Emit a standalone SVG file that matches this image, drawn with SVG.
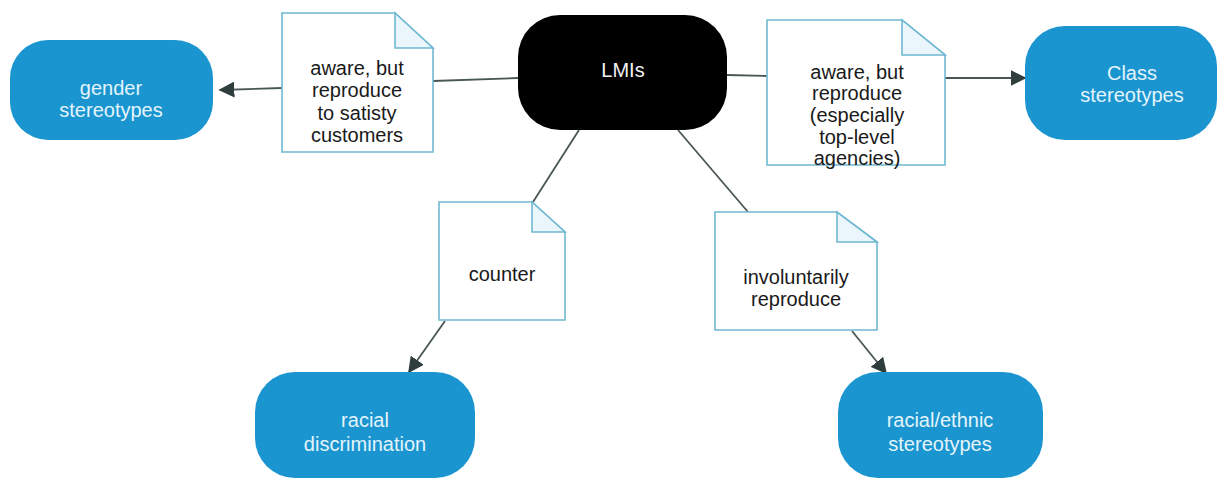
<svg xmlns="http://www.w3.org/2000/svg" width="1221" height="481" viewBox="0 0 1221 481">
  <style>
    .topic { fill: #1b95cf; }
    .topic-text { fill: #e3f4fc; font-family: "Liberation Sans", Arial, sans-serif; font-size: 20px; text-anchor: middle; }
    .note { fill: #ffffff; stroke: #6fb8d2; stroke-width: 1.6; }
    .fold { fill: #eaf6fb; stroke: #6fb8d2; stroke-width: 1.6; }
    .note-text { fill: #1a1a1a; font-family: "Liberation Sans", Arial, sans-serif; font-size: 20px; text-anchor: middle; }
    .link { fill: none; stroke: #4a5656; stroke-width: 1.8; }
  </style>
  <defs>
    <marker id="arrow" viewBox="0 0 10 10" refX="9" refY="5" markerWidth="16" markerHeight="16" markerUnits="userSpaceOnUse" orient="auto">
      <path d="M0,0 L10,5 L0,10 z" fill="#2f3d3d"/>
    </marker>
  </defs>
  <rect width="1221" height="481" fill="#ffffff"/>

  <!-- connectors -->
  <g id="connectors">
    <line class="link" x1="518" y1="78" x2="433" y2="81"/>
    <line class="link" x1="282" y1="88" x2="220" y2="90" marker-end="url(#arrow)"/>
    <line class="link" x1="727" y1="75" x2="767" y2="76"/>
    <line class="link" x1="945" y1="78" x2="1025" y2="78" marker-end="url(#arrow)"/>
    <line class="link" x1="579" y1="130" x2="533" y2="202"/>
    <line class="link" x1="445" y1="321" x2="409" y2="372" marker-end="url(#arrow)"/>
    <line class="link" x1="678" y1="130" x2="748" y2="212"/>
    <line class="link" x1="852" y1="331" x2="886" y2="373" marker-end="url(#arrow)"/>
  </g>

  <!-- central topic -->
  <g id="lmis">
    <rect x="518" y="15" width="209" height="115" rx="42" ry="42" fill="#000000"/>
    <text x="623" y="77" fill="#f2f2f2" font-family="Liberation Sans, Arial, sans-serif" font-size="20" text-anchor="middle">LMIs</text>
  </g>

  <!-- outcome topics -->
  <g id="gender-stereotypes">
    <rect class="topic" x="10" y="40" width="203" height="100" rx="38" ry="38"/>
    <text class="topic-text" x="111" y="95">gender</text>
    <text class="topic-text" x="111" y="117">stereotypes</text>
  </g>
  <g id="class-stereotypes">
    <rect class="topic" x="1025" y="26" width="192" height="114" rx="40" ry="40"/>
    <text class="topic-text" x="1132" y="80">Class</text>
    <text class="topic-text" x="1132" y="102">stereotypes</text>
  </g>
  <g id="racial-discrimination">
    <rect class="topic" x="255" y="372" width="220" height="106" rx="40" ry="40"/>
    <text class="topic-text" x="365" y="427">racial</text>
    <text class="topic-text" x="365" y="451">discrimination</text>
  </g>
  <g id="racial-ethnic-stereotypes">
    <rect class="topic" x="838" y="372" width="205" height="106" rx="40" ry="40"/>
    <text class="topic-text" x="940" y="427">racial/ethnic</text>
    <text class="topic-text" x="940" y="451">stereotypes</text>
  </g>

  <!-- relationship notes -->
  <g id="note-satisfy">
    <path class="note" d="M282,13 H395 L433,48 V152 H282 Z"/>
    <path class="fold" d="M395,13 V48 H433 Z"/>
    <text class="note-text" x="357" y="75">aware, but</text>
    <text class="note-text" x="357" y="97">reproduce</text>
    <text class="note-text" x="357" y="120">to satisty</text>
    <text class="note-text" x="357" y="142">customers</text>
  </g>
  <g id="note-top-level">
    <path class="note" d="M767,20 H902 L945,55 V165 H767 Z"/>
    <path class="fold" d="M902,20 V55 H945 Z"/>
    <text class="note-text" x="857" y="79">aware, but</text>
    <text class="note-text" x="857" y="100">reproduce</text>
    <text class="note-text" x="857" y="122">(especially</text>
    <text class="note-text" x="857" y="144">top-level</text>
    <text class="note-text" x="857" y="165">agencies)</text>
  </g>
  <g id="note-counter">
    <path class="note" d="M439,202 H532 L565,232 V320 H439 Z"/>
    <path class="fold" d="M532,202 V232 H565 Z"/>
    <text class="note-text" x="502" y="281">counter</text>
  </g>
  <g id="note-involuntary">
    <path class="note" d="M715,212 H837 L877,242 V330 H715 Z"/>
    <path class="fold" d="M837,212 V242 H877 Z"/>
    <text class="note-text" x="796" y="284">involuntarily</text>
    <text class="note-text" x="796" y="306">reproduce</text>
  </g>
</svg>
